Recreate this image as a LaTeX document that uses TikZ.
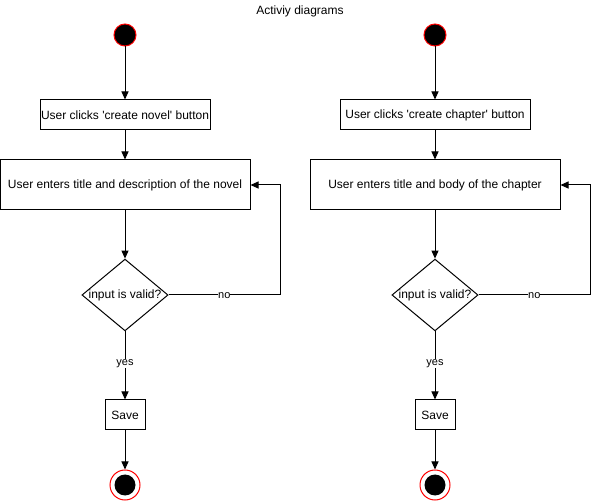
\documentclass[tikz,border=0pt]{standalone}
\usepackage{fontspec}
\setmainfont{Liberation Sans}
\usetikzlibrary{shapes.geometric,arrows.meta}
\begin{document}
\begin{tikzpicture}[x=1pt,y=-1pt,
  every node/.style={font=\fontsize{12}{14}\selectfont, inner sep=0pt},
  actbox/.style={draw, line width=1pt, rectangle, anchor=center},
  decis/.style={draw, line width=1pt, diamond, aspect=1.2, minimum width=84pt, minimum height=70pt},
  startdot/.style={circle, fill=black, draw=red, line width=1pt, minimum size=22pt},
  enddot/.style={circle, draw=red, fill=white, line width=1pt, minimum size=30pt},
  enddotin/.style={circle, fill=black, minimum size=21pt},
  flow/.style={draw, line width=1pt, -{Triangle[length=8pt,width=7pt]}},
  lbl/.style={fill=white, font=\fontsize{11}{13}\selectfont}
]
\useasboundingbox (0,0) rectangle (600,502);
\node (title) at (300,11) {Activiy diagrams};
% left
\node[startdot] (s1) at (125,35) {};
\node[actbox, minimum width=170pt, minimum height=30pt] (b1) at (125,115) {User clicks \textquotesingle create novel\textquotesingle\ button};
\node[actbox, minimum width=250pt, minimum height=50pt] (c1) at (125,185) {User enters title and description of the novel};
\node[decis] (d1) at (125,295) {input is valid?};
\node[actbox, minimum width=40pt, minimum height=30pt] (v1) at (125,415) {Save};
\node[enddot] (e1) at (125,485) {};
\node[enddotin] at (125,485) {};
\coordinate (n1a) at (280,295);
\coordinate (n1b) at (280,185);
\draw[flow] (s1) -- (b1);
\draw[flow] (b1) -- (c1);
\draw[flow] (c1) -- (d1);
\draw[flow] (d1) -- node[lbl, pos=0.47] {yes} (v1);
\draw[flow] (v1) -- (e1);
\draw[flow] (d1.east) -- node[lbl, pos=0.5, yshift=-1pt] {no} (n1a) -- (n1b) -- (c1.east);
% right
\node[startdot] (s2) at (435,35) {};
\node[actbox, minimum width=190pt, minimum height=30pt] (b2) at (435,115) {User clicks \textquotesingle create chapter\textquotesingle\ button};
\node[actbox, minimum width=250pt, minimum height=50pt] (c2) at (435,185) {User enters title and body of the chapter};
\node[decis] (d2) at (435,295) {input is valid?};
\node[actbox, minimum width=40pt, minimum height=30pt] (v2) at (435,415) {Save};
\node[enddot] (e2) at (435,485) {};
\node[enddotin] at (435,485) {};
\coordinate (n2a) at (590,295);
\coordinate (n2b) at (590,185);
\draw[flow] (s2) -- (b2);
\draw[flow] (b2) -- (c2);
\draw[flow] (c2) -- (d2);
\draw[flow] (d2) -- node[lbl, pos=0.47] {yes} (v2);
\draw[flow] (v2) -- (e2);
\draw[flow] (d2.east) -- node[lbl, pos=0.5, yshift=-1pt] {no} (n2a) -- (n2b) -- (c2.east);
\end{tikzpicture}
\end{document}
